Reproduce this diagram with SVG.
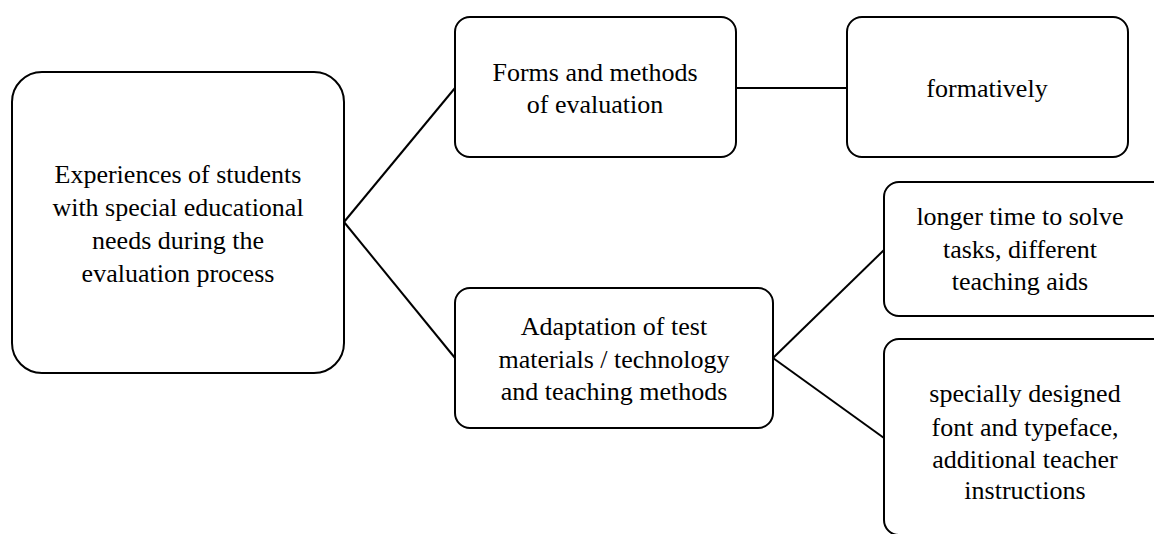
<svg xmlns="http://www.w3.org/2000/svg" width="1154" height="534" viewBox="0 0 1154 534">
<defs>
<style>
.box{fill:#fff;stroke:#000;stroke-width:2}
.conn{stroke:#000;stroke-width:2;fill:none}
</style>
</defs>
<rect width="1154" height="534" fill="#fff"/>
<g id="connectors">
<line class="conn" x1="344" y1="222" x2="455" y2="88"/>
<line class="conn" x1="344" y1="222" x2="455" y2="358"/>
<line class="conn" x1="736" y1="88" x2="847" y2="88"/>
<line class="conn" x1="773" y1="358" x2="884" y2="250"/>
<line class="conn" x1="773" y1="358" x2="884" y2="438"/>
</g>
<g font-family="'Liberation Serif', 'Times New Roman', serif" font-size="26" text-anchor="middle" fill="#000">
<g id="root">
<rect class="box" x="12" y="72" width="332" height="301" rx="30"/>
<text><tspan x="178" y="183">Experiences of students</tspan><tspan x="178" y="216">with special educational</tspan><tspan x="178" y="249">needs during the</tspan><tspan x="178" y="282">evaluation process</tspan></text>
</g>
<g id="forms">
<rect class="box" x="455" y="17" width="281" height="140" rx="15"/>
<text><tspan x="595" y="81">Forms and methods</tspan><tspan x="595" y="113">of evaluation</tspan></text>
</g>
<g id="formatively">
<rect class="box" x="847" y="17" width="281" height="140" rx="15"/>
<text><tspan x="987" y="97">formatively</tspan></text>
</g>
<g id="adaptation">
<rect class="box" x="455" y="288" width="318" height="140" rx="15"/>
<text><tspan x="614" y="335">Adaptation of test</tspan><tspan x="614" y="368">materials / technology</tspan><tspan x="614" y="400">and teaching methods</tspan></text>
</g>
<g id="longer">
<rect class="box" x="884" y="182" width="290" height="134" rx="15"/>
<text><tspan x="1020" y="225">longer time to solve</tspan><tspan x="1020" y="258">tasks, different</tspan><tspan x="1020" y="290">teaching aids</tspan></text>
</g>
<g id="specially">
<rect class="box" x="884" y="339" width="290" height="196" rx="15"/>
<text><tspan x="1025" y="402">specially designed</tspan><tspan x="1025" y="436">font and typeface,</tspan><tspan x="1025" y="468">additional teacher</tspan><tspan x="1025" y="499">instructions</tspan></text>
</g>
</g>
</svg>
